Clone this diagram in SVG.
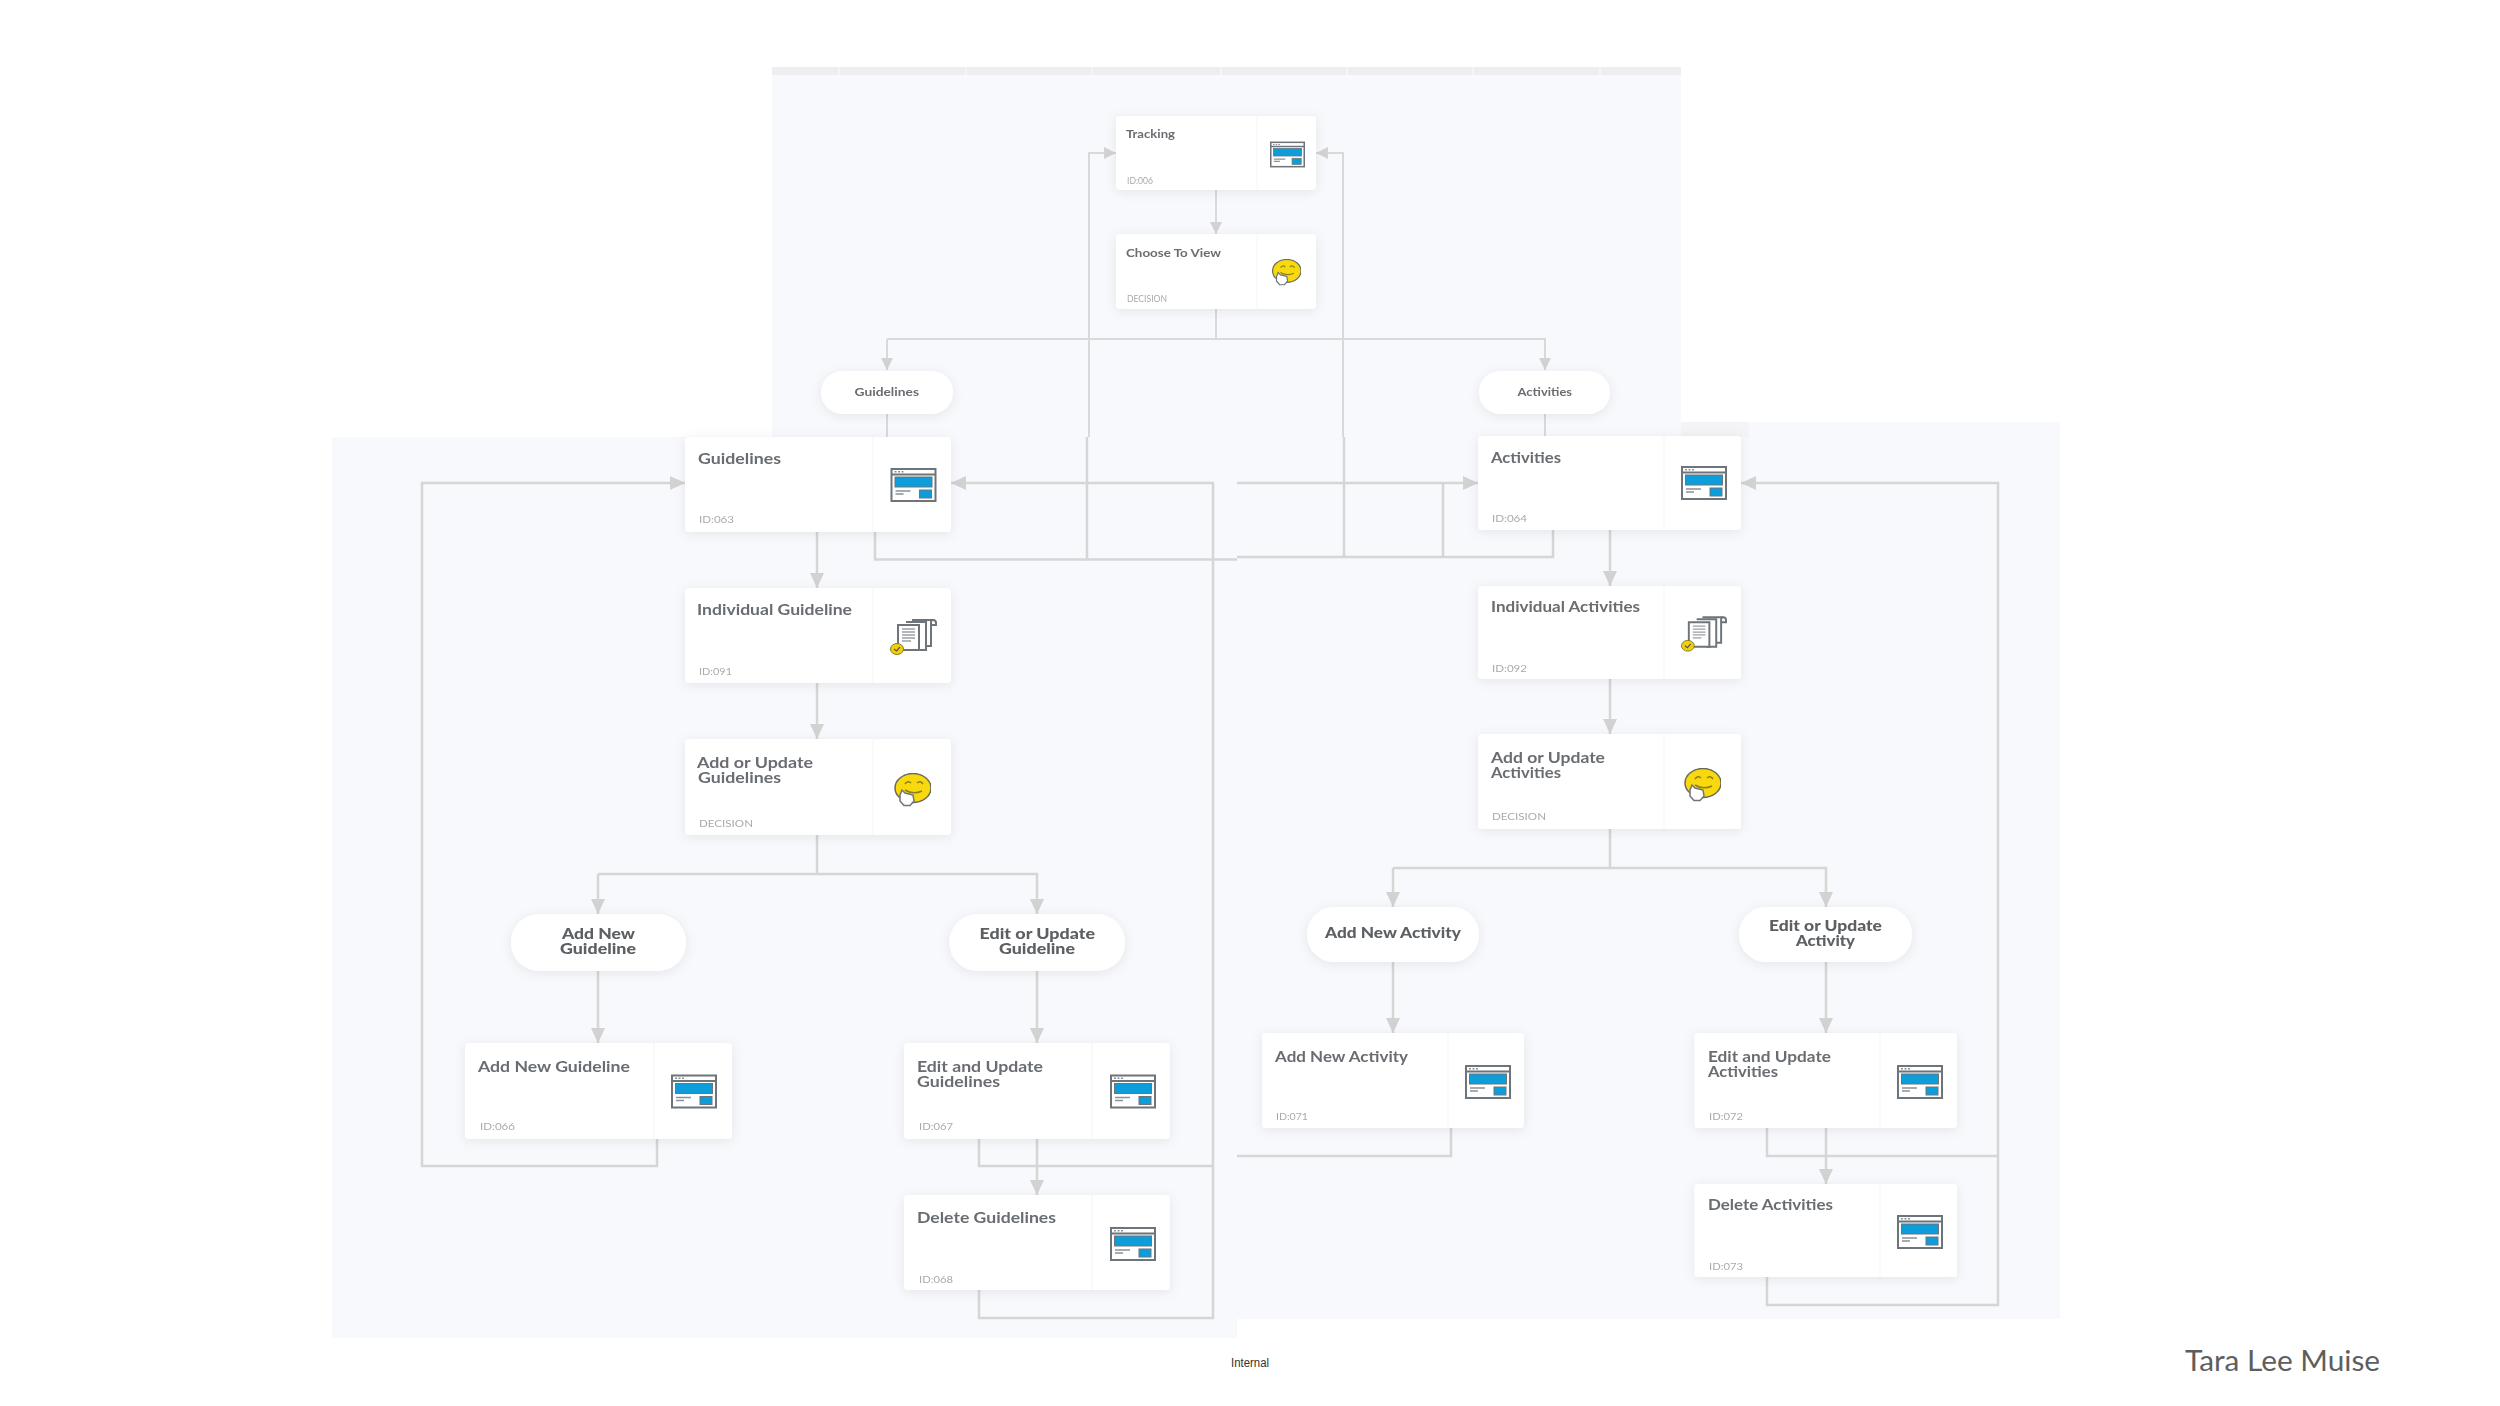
<svg xmlns="http://www.w3.org/2000/svg" width="2500" height="1406" viewBox="0 0 2500 1406">
<style>
.panel{fill:#f8f9fc}
.card{fill:#fff;filter:url(#shadow)}
.div{stroke:#f8f8f9;stroke-width:1.5;fill:none}
.t,.ts,.p{transform:translateY(1px)}
.i{transform:translateY(0.5px)}
.t{font-family:"Lato","Liberation Sans",sans-serif;font-weight:700;font-size:15px;fill:#696d71}
.ts{font-family:"Lato","Liberation Sans",sans-serif;font-weight:700;font-size:11px;fill:#696d71}
.p{font-family:"Lato","Liberation Sans",sans-serif;font-weight:900;font-size:15px;fill:#5c6064;text-anchor:start}
.i{font-family:"Lato","Liberation Sans",sans-serif;font-size:9px;fill:#aaaaac}
.c{fill:none;stroke:#d6d6d7;stroke-width:2.5}
.c2{fill:none;stroke:#d9d9da;stroke-width:2}
</style>
<defs>
<filter id="shadow" x="-15%" y="-25%" width="130%" height="150%"><feDropShadow dx="0" dy="2" stdDeviation="6" flood-color="#000" flood-opacity="0.08"/></filter>
<filter id="soft" filterUnits="userSpaceOnUse" x="0" y="0" width="2500" height="1345"><feGaussianBlur stdDeviation="0.7"/></filter>
<marker id="a" markerUnits="userSpaceOnUse" markerWidth="16" markerHeight="15" refX="15" refY="7.500" orient="auto"><path d="M0 0.500L15 7.500L0 14.500Z" fill="#d2d2d3"/></marker>
<marker id="b" markerUnits="userSpaceOnUse" markerWidth="13" markerHeight="13" refX="12" refY="6" orient="auto"><path d="M0 0L12 6L0 12Z" fill="#d2d2d3"/></marker>
<symbol id="screen" viewBox="0 0 46 34">
<rect x="1" y="1" width="44" height="32" fill="#fff" stroke="#6d747a" stroke-width="2"/>
<path d="M1 6.500H45" stroke="#6d747a" stroke-width="2"/>
<path d="M4 3.800H6M7.500 3.800H9.500M11 3.800H13" stroke="#8b9197" stroke-width="1.500"/>
<rect x="4.500" y="9" width="37" height="10" fill="#0d9ddb" stroke="#6d747a" stroke-width="1"/>
<rect x="29" y="22" width="12" height="8" fill="#0d9ddb" stroke="#6d747a" stroke-width="1"/>
<path d="M5 23H20M5 26H13" stroke="#8b9197" stroke-width="1.500"/>
</symbol>
<symbol id="smile" viewBox="0 0 38 34">
<ellipse cx="20" cy="15" rx="18" ry="14.500" fill="#f7d90f" stroke="#6a6a5c" stroke-width="1.500"/>
<path d="M12 11Q15 7 18 10M24 10Q27 7 30 11M12 17Q20 22 29 18" fill="none" stroke="#8a7d20" stroke-width="1.500"/>
<path d="M7 22L9 17L12 20L20 22L21 28L17 32.500H11L7 28Z" fill="#fff" stroke="#6d747a" stroke-width="1.500"/>
</symbol>
<symbol id="docs" viewBox="0 0 47 37">
<path d="M22 2H43Q46 2 46 5V7H41V28H35" fill="#fff" stroke="#6d747a" stroke-width="2"/>
<path d="M41 7V4Q41 2 43 2" fill="none" stroke="#6d747a" stroke-width="2"/>
<path d="M16 4H36V32H26" fill="#fff" stroke="#6d747a" stroke-width="2"/>
<path d="M8 7H29V32H11L8 28Z" fill="#fff" stroke="#6d747a" stroke-width="2"/>
<path d="M12 11H25M12 14H25M12 17H25M12 20H25M12 23H21" stroke="#9ba0a5" stroke-width="1.300"/>
<ellipse cx="7" cy="31" rx="6.500" ry="5.500" fill="#f2cf0c" stroke="#8a7d20" stroke-width="1"/>
<path d="M4 31L6.500 33L10 29" fill="none" stroke="#555" stroke-width="1.200"/>
</symbol>
</defs>
<rect width="2500" height="1406" fill="#fff"/>
<g filter="url(#soft)">
<g id="panels">
<rect class="panel" x="772" y="67" width="909" height="370"/>
<rect x="772" y="67" width="909" height="8" fill="#eeeef0"/>
<path d="M839 67V75M966 67V75M1092 67V75M1221 67V75M1347 67V75M1473 67V75M1600 67V75" stroke="#f8f8f9" stroke-width="1.500"/>
<rect class="panel" x="332" y="437" width="905" height="901"/>
<rect class="panel" x="1237" y="422" width="823" height="897"/>
<rect x="1681" y="422" width="68" height="15" fill="#f4f4f6"/>
</g>
<g id="connectors">
<path class="c2" d="M1216 190V234" marker-end="url(#b)"/>
<path class="c2" d="M1216 309V339"/>
<path class="c2" d="M887 339H1545V370" marker-end="url(#b)"/>
<path class="c2" d="M887 339V370" marker-end="url(#b)"/>
<path class="c2" d="M887 414V437M1545 414V437"/>
<path class="c2" d="M1089 437V153H1116" marker-end="url(#b)"/>
<path class="c2" d="M1343 437V153H1316" marker-end="url(#b)"/>
<path class="c" d="M875 532V559.500H1087V437"/>
<path class="c" d="M1087 559.500H1237"/>
<path class="c" d="M1553 530V557H1237"/>
<path class="c" d="M1344 437V557"/>
<path class="c" d="M1443 483V557"/>
<path class="c" d="M1237 483H1478" marker-end="url(#a)"/>
<path class="c" d="M817 532V588" marker-end="url(#a)"/>
<path class="c" d="M817 683V739" marker-end="url(#a)"/>
<path class="c" d="M817 835V874"/>
<path class="c" d="M598 874H1037V914" marker-end="url(#a)"/>
<path class="c" d="M598 874V914" marker-end="url(#a)"/>
<path class="c" d="M598 971V1043" marker-end="url(#a)"/>
<path class="c" d="M1037 971V1043" marker-end="url(#a)"/>
<path class="c" d="M1037 1139V1195" marker-end="url(#a)"/>
<path class="c" d="M657 1139V1166H422V483H685" marker-end="url(#a)"/>
<path class="c" d="M979 1139V1166H1213"/>
<path class="c" d="M979 1290V1318H1213V483H951" marker-end="url(#a)"/>
<path class="c" d="M1610 530V586" marker-end="url(#a)"/>
<path class="c" d="M1610 679V734" marker-end="url(#a)"/>
<path class="c" d="M1610 829V868"/>
<path class="c" d="M1393 868H1826V907" marker-end="url(#a)"/>
<path class="c" d="M1393 868V907" marker-end="url(#a)"/>
<path class="c" d="M1393 962V1033" marker-end="url(#a)"/>
<path class="c" d="M1826 962V1033" marker-end="url(#a)"/>
<path class="c" d="M1826 1128V1184" marker-end="url(#a)"/>
<path class="c" d="M1451 1128V1156H1237"/>
<path class="c" d="M1767 1128V1156H1998"/>
<path class="c" d="M1767 1277V1305H1998V483H1741" marker-end="url(#a)"/>
</g>
<g id="node-tracking"><rect class="card" x="1116" y="116" width="200" height="74" rx="4"/><path class="div" d="M1257 116V190"/><text class="ts" x="1126" y="137" textLength="49" lengthAdjust="spacingAndGlyphs">Tracking</text><text class="i" x="1127" y="183" textLength="26" lengthAdjust="spacingAndGlyphs">ID:006</text><use href="#screen" x="1270" y="141" width="35" height="27" preserveAspectRatio="none"/></g>
<g id="node-choose"><rect class="card" x="1116" y="234" width="200" height="75" rx="4"/><path class="div" d="M1257 234V309"/><text class="ts" x="1126" y="256" textLength="95" lengthAdjust="spacingAndGlyphs">Choose To View</text><text class="i" x="1127" y="301" textLength="40" lengthAdjust="spacingAndGlyphs">DECISION</text><use href="#smile" x="1271" y="259" width="30" height="27" preserveAspectRatio="none"/></g>
<g id="pill-guidelines"><rect class="card" x="821" y="371" width="132" height="43" rx="21.500"/><text class="ts" x="854.500" y="395" textLength="64.500" lengthAdjust="spacingAndGlyphs">Guidelines</text></g>
<g id="pill-activities"><rect class="card" x="1479" y="371" width="131" height="43" rx="21.500"/><text class="ts" x="1517.500" y="395" textLength="54.500" lengthAdjust="spacingAndGlyphs">Activities</text></g>
<g id="node-guidelines"><rect class="card" x="685" y="437" width="266" height="95" rx="4"/><path class="div" d="M873 437V532"/><text class="t" x="698" y="463" textLength="83" lengthAdjust="spacingAndGlyphs">Guidelines</text><text class="i" x="699" y="522" textLength="35" lengthAdjust="spacingAndGlyphs">ID:063</text><use href="#screen" x="890" y="468" width="47" height="34" preserveAspectRatio="none"/></g>
<g id="node-individual-guideline"><rect class="card" x="685" y="588" width="266" height="95" rx="4"/><path class="div" d="M873 588V683"/><text class="t" x="697" y="614" textLength="155" lengthAdjust="spacingAndGlyphs">Individual Guideline</text><text class="i" x="699" y="674" textLength="33" lengthAdjust="spacingAndGlyphs">ID:091</text><use href="#docs" x="890" y="618" width="47" height="37" preserveAspectRatio="none"/></g>
<g id="node-add-update-guidelines"><rect class="card" x="685" y="739" width="266" height="96" rx="4"/><path class="div" d="M873 739V835"/><text class="t" x="697" y="767" textLength="116" lengthAdjust="spacingAndGlyphs">Add or Update</text><text class="t" x="698" y="782" textLength="83" lengthAdjust="spacingAndGlyphs">Guidelines</text><text class="i" x="699" y="826" textLength="54" lengthAdjust="spacingAndGlyphs">DECISION</text><use href="#smile" x="893" y="773" width="38" height="34" preserveAspectRatio="none"/></g>
<g id="pill-add-new-guideline"><rect class="card" x="511" y="914" width="175" height="57" rx="28"/><text class="p" x="562" y="938" textLength="73" lengthAdjust="spacingAndGlyphs">Add New</text><text class="p" x="560" y="953" textLength="76" lengthAdjust="spacingAndGlyphs">Guideline</text></g>
<g id="pill-edit-update-guideline"><rect class="card" x="949.500" y="914" width="175.500" height="57" rx="28"/><text class="p" x="979.500" y="938" textLength="115.500" lengthAdjust="spacingAndGlyphs">Edit or Update</text><text class="p" x="999" y="953" textLength="76" lengthAdjust="spacingAndGlyphs">Guideline</text></g>
<g id="node-add-new-guideline"><rect class="card" x="465" y="1043" width="267" height="96" rx="4"/><path class="div" d="M654 1043V1139"/><text class="t" x="478" y="1071" textLength="152" lengthAdjust="spacingAndGlyphs">Add New Guideline</text><text class="i" x="480" y="1129" textLength="35" lengthAdjust="spacingAndGlyphs">ID:066</text><use href="#screen" x="671" y="1074" width="46" height="35" preserveAspectRatio="none"/></g>
<g id="node-edit-update-guidelines"><rect class="card" x="904" y="1043" width="266" height="96" rx="4"/><path class="div" d="M1092 1043V1139"/><text class="t" x="917" y="1071" textLength="126" lengthAdjust="spacingAndGlyphs">Edit and Update</text><text class="t" x="917" y="1086" textLength="83" lengthAdjust="spacingAndGlyphs">Guidelines</text><text class="i" x="919" y="1129" textLength="34" lengthAdjust="spacingAndGlyphs">ID:067</text><use href="#screen" x="1110" y="1074" width="46" height="35" preserveAspectRatio="none"/></g>
<g id="node-delete-guidelines"><rect class="card" x="904" y="1195" width="266" height="95" rx="4"/><path class="div" d="M1092 1195V1290"/><text class="t" x="917" y="1222" textLength="139" lengthAdjust="spacingAndGlyphs">Delete Guidelines</text><text class="i" x="919" y="1282" textLength="34" lengthAdjust="spacingAndGlyphs">ID:068</text><use href="#screen" x="1110" y="1227" width="46" height="34" preserveAspectRatio="none"/></g>
<g id="node-activities"><rect class="card" x="1478" y="436" width="263" height="94" rx="4"/><path class="div" d="M1664 436V530"/><text class="t" x="1491" y="462" textLength="70" lengthAdjust="spacingAndGlyphs">Activities</text><text class="i" x="1492" y="521" textLength="35" lengthAdjust="spacingAndGlyphs">ID:064</text><use href="#screen" x="1681" y="466" width="46" height="34" preserveAspectRatio="none"/></g>
<g id="node-individual-activities"><rect class="card" x="1478" y="586" width="263" height="93" rx="4"/><path class="div" d="M1664 586V679"/><text class="t" x="1491" y="611" textLength="149" lengthAdjust="spacingAndGlyphs">Individual Activities</text><text class="i" x="1492" y="671" textLength="35" lengthAdjust="spacingAndGlyphs">ID:092</text><use href="#docs" x="1681" y="615" width="46" height="37" preserveAspectRatio="none"/></g>
<g id="node-add-update-activities"><rect class="card" x="1478" y="734" width="263" height="95" rx="4"/><path class="div" d="M1664 734V829"/><text class="t" x="1491" y="762" textLength="114" lengthAdjust="spacingAndGlyphs">Add or Update</text><text class="t" x="1491" y="777" textLength="70" lengthAdjust="spacingAndGlyphs">Activities</text><text class="i" x="1492" y="819" textLength="54" lengthAdjust="spacingAndGlyphs">DECISION</text><use href="#smile" x="1683" y="768" width="38" height="34" preserveAspectRatio="none"/></g>
<g id="pill-add-new-activity"><rect class="card" x="1307" y="907" width="172" height="55" rx="27"/><text class="p" x="1325" y="937" textLength="136" lengthAdjust="spacingAndGlyphs">Add New Activity</text></g>
<g id="pill-edit-update-activity"><rect class="card" x="1739" y="907" width="173" height="55" rx="27"/><text class="p" x="1769" y="930" textLength="113" lengthAdjust="spacingAndGlyphs">Edit or Update</text><text class="p" x="1796" y="945" textLength="59" lengthAdjust="spacingAndGlyphs">Activity</text></g>
<g id="node-add-new-activity"><rect class="card" x="1262" y="1033" width="262" height="95" rx="4"/><path class="div" d="M1448 1033V1128"/><text class="t" x="1275" y="1061" textLength="133" lengthAdjust="spacingAndGlyphs">Add New Activity</text><text class="i" x="1276" y="1119" textLength="32" lengthAdjust="spacingAndGlyphs">ID:071</text><use href="#screen" x="1465" y="1065" width="46" height="34" preserveAspectRatio="none"/></g>
<g id="node-edit-update-activities"><rect class="card" x="1694.500" y="1033" width="262.500" height="95" rx="4"/><path class="div" d="M1880 1033V1128"/><text class="t" x="1708" y="1061" textLength="123" lengthAdjust="spacingAndGlyphs">Edit and Update</text><text class="t" x="1708" y="1076" textLength="70" lengthAdjust="spacingAndGlyphs">Activities</text><text class="i" x="1709" y="1119" textLength="34" lengthAdjust="spacingAndGlyphs">ID:072</text><use href="#screen" x="1897" y="1065" width="46" height="34" preserveAspectRatio="none"/></g>
<g id="node-delete-activities"><rect class="card" x="1694.500" y="1184" width="262.500" height="93" rx="4"/><path class="div" d="M1880 1184V1277"/><text class="t" x="1708" y="1209" textLength="125" lengthAdjust="spacingAndGlyphs">Delete Activities</text><text class="i" x="1709" y="1269" textLength="34" lengthAdjust="spacingAndGlyphs">ID:073</text><use href="#screen" x="1897" y="1215" width="46" height="34" preserveAspectRatio="none"/></g>
</g>
<text x="1231" y="1367" font-family="Liberation Sans, sans-serif" font-size="12" fill="#333" textLength="38" lengthAdjust="spacingAndGlyphs">Internal</text>
<text x="2185" y="1371" font-family="Lato, Liberation Sans, sans-serif" font-size="29" fill="#5e5e5e" textLength="195" lengthAdjust="spacingAndGlyphs">Tara Lee Muise</text>
</svg>
